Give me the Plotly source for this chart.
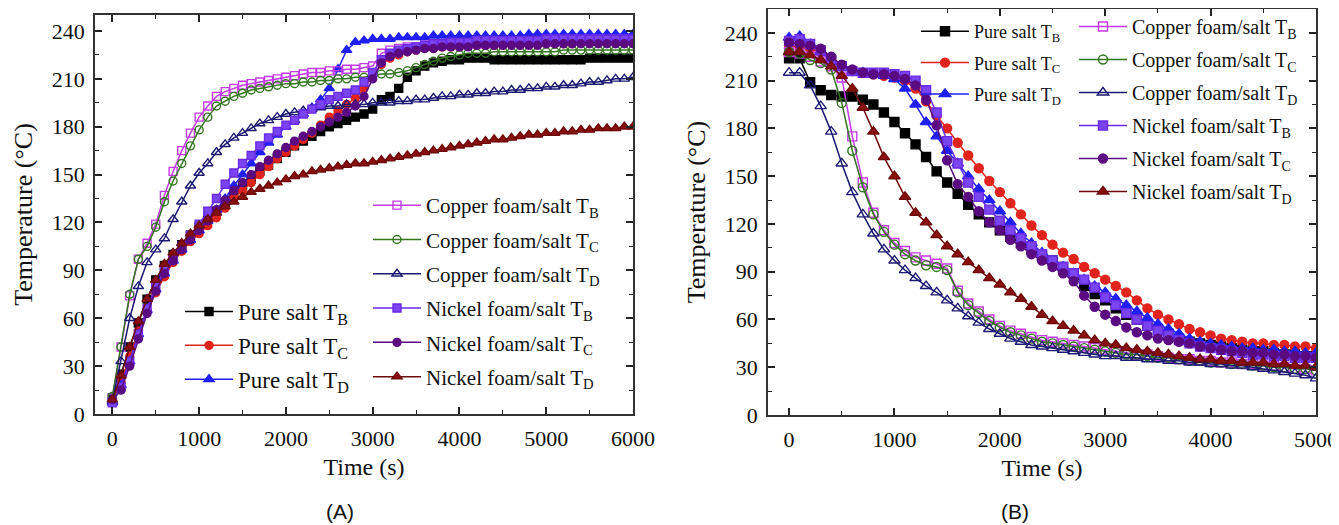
import plotly.graph_objects as go

# ---------------- data ----------------
time_a = list(range(0, 6001, 100))
time_b = list(range(0, 5001, 100))

# Panel A (heating)
a_pure_tb = [10,25,42,57,72,84,93,100,106,112, 117,122,127,132,137,142,147,152,156,160,
             164,168,171,174,177,180,182,184,186,188, 191,197,199,204,211,215,218,220,221,222,
             222,223,223,223,222,222,222,222,222,222, 222,222,222,222,222,223,223,223,223,223, 223]
a_pure_tc = [8,20,36,52,64,76,86,95,102,108, 113,118,123,129,135,140,145,150,155,160,
             164,168,172,176,181,186,190,194,198,204, 212,219,223,225,227,228,229,229,230,230,
             230,231,231,231,231,231,232,232,232,232, 232,232,232,232,233,233,233,233,233,233, 233]
a_pure_td = [7,18,33,50,65,78,88,96,103,109, 115,121,128,135,143,150,157,164,170,175,
             180,184,188,192,197,204,216,228,233,234, 235,235,235,236,236,236,236,237,237,237,
             237,237,237,237,237,237,237,237,238,238, 238,238,238,238,238,238,238,238,238,238, 238]
a_cu_tb = [10,42,74,97,107,119,137,152,165,176, 186,193,199,202,204,206,207,208,209,210,
           211,212,213,214,214,215,215,216,216,217, 218,226,228,229,230,230,231,231,231,232,
           232,232,232,232,233,233,233,233,233,233, 233,233,234,234,234,234,234,234,234,234, 234]
a_cu_tc = [11,42,75,97,105,117,133,146,157,168, 178,186,193,196,199,201,203,204,205,206,
           207,207,208,208,209,209,210,210,211,211, 212,213,213,214,215,217,219,221,223,224,
           225,226,226,226,227,227,227,227,227,227, 227,227,228,228,228,228,228,228,228,228, 228]
a_cu_td = [8,33,60,80,95,103,110,122,133,143, 151,157,164,169,173,176,179,182,184,186,
           188,189,190,191,192,193,193,194,194,194, 195,195,195,196,196,197,197,198,199,199,
           200,200,201,201,202,202,203,203,204,204, 205,205,206,206,207,208,208,209,210,210, 211]
a_ni_tb = [7,17,33,50,66,80,90,98,105,112, 119,127,135,144,151,157,162,168,173,177,
           181,184,188,191,194,197,199,201,203,208, 214,222,226,228,229,230,231,232,232,233,
           233,233,234,234,234,234,234,234,234,234, 235,235,235,235,235,235,235,235,235,235, 235]
a_ni_tc = [9,15,30,47,63,77,88,96,103,109, 115,121,128,134,140,145,150,155,159,163,
           167,171,174,177,180,183,186,189,193,199, 210,220,224,226,227,228,229,229,230,230,
           230,230,231,231,231,231,231,231,231,231, 232,232,232,232,232,232,232,232,232,232, 232]
a_ni_td = [9,24,42,58,72,84,94,101,107,113, 118,122,126,130,133,136,139,141,143,145,
           147,149,150,152,153,154,155,156,157,157, 158,159,160,161,162,163,164,165,166,167,
           168,169,170,171,172,172,173,174,175,175, 176,176,177,177,178,178,179,179,179,180, 180]

# Panel B (cooling)
b_pure_tb = [224,224,209,204,201,200,200,198,195,190, 184,177,170,162,153,146,139,132,126,121,
             116,112,108,104,100,97,93,89,81,76, 72,67,63,60,57,54,51,48,46,45,
             44,43,42,41,40,40,39,38,38,37, 37]
b_pure_tc = [232,231,230,228,224,219,216,215,214,213, 212,210,205,197,188,180,171,163,155,147,
             140,133,126,119,113,107,102,98,93,89, 85,81,77,72,67,63,60,57,54,52,
             50,48,47,46,45,45,44,44,43,43, 42]
b_pure_td = [237,238,233,228,222,218,216,215,214,213, 211,205,195,184,175,166,158,150,142,135,
             128,121,114,108,102,97,93,89,85,81, 77,73,69,65,61,57,54,51,48,46,
             45,44,43,42,42,41,41,40,40,39, 39]
b_cu_tb = [228,227,225,222,219,212,175,146,127,116, 108,103,99,97,95,92,78,70,65,60,
           56,53,51,49,47,46,45,44,43,42, 41,40,39,38,38,37,36,35,35,34,
           34,33,33,32,32,31,31,30,29,29, 28]
b_cu_tc = [228,227,223,221,217,196,166,143,126,115, 107,101,97,94,93,91,77,69,64,59,
           55,52,50,48,46,45,44,43,42,41, 40,39,38,38,37,36,36,35,34,34,
           33,33,32,32,31,31,30,30,29,29, 28]
b_cu_td = [215,215,207,194,178,158,140,126,114,104, 97,91,86,81,77,72,67,62,58,54,
           51,48,46,44,43,42,41,40,39,38, 37,37,36,36,35,35,34,34,33,33,
           32,32,31,31,30,29,28,27,26,25, 23]
b_ni_tb = [235,236,233,229,223,219,216,215,215,215, 214,213,210,204,190,172,158,146,137,129,
           122,116,111,106,101,97,93,89,85,80, 74,69,64,60,56,53,50,47,45,43,
           42,41,40,39,38,38,37,37,36,36, 36]
b_ni_tc = [234,233,232,230,225,220,217,215,214,214, 213,211,207,198,182,160,145,137,128,121,
           116,110,106,101,97,93,89,84,75,68, 63,59,55,52,50,48,47,46,45,43,
           42,41,40,40,39,39,38,38,37,37, 36]
b_ni_td = [228,228,226,223,219,213,205,193,178,162, 150,137,127,121,113,106,101,96,91,86,
           82,77,73,68,63,59,56,53,50,47, 45,44,42,41,40,39,38,37,36,35,
           35,34,34,33,33,33,32,32,31,31, 30]

x_ticks_a = [0, 1000, 2000, 3000, 4000, 5000, 6000]
x_ticks_b = [0, 1000, 2000, 3000, 4000, 5000]
y_ticks = [0, 30, 60, 90, 120, 150, 180, 210, 240]

# ---------------- styles ----------------
SERIF = "Liberation Serif"
SANS = "Liberation Sans"
styles = {
    "pure_tb": dict(name="Pure salt T<sub>B</sub>", color="#000000", symbol="square", fill="#000000"),
    "pure_tc": dict(name="Pure salt T<sub>C</sub>", color="#e0231c", symbol="circle", fill="#e0231c"),
    "pure_td": dict(name="Pure salt T<sub>D</sub>", color="#1f1ff5", symbol="triangle-up", fill="#1f1ff5"),
    "cu_tb": dict(name="Copper foam/salt T<sub>B</sub>", color="#c23be6", symbol="square-open", fill="#c23be6"),
    "cu_tc": dict(name="Copper foam/salt T<sub>C</sub>", color="#33761f", symbol="circle-open", fill="#33761f"),
    "cu_td": dict(name="Copper foam/salt T<sub>D</sub>", color="#1c1a72", symbol="triangle-up-open", fill="#1c1a72"),
    "ni_tb": dict(name="Nickel foam/salt T<sub>B</sub>", color="#6a2ae6", symbol="square", fill="#7a44f0"),
    "ni_tc": dict(name="Nickel foam/salt T<sub>C</sub>", color="#5a0b82", symbol="circle", fill="#5a0b82"),
    "ni_td": dict(name="Nickel foam/salt T<sub>D</sub>", color="#6e0a0a", symbol="triangle-up", fill="#8a1010"),
}

fig = go.Figure()

def add(key, t, vals, xa, ya, legend, size, group):
    s = styles[key]
    fig.add_trace(go.Scatter(
        x=t, y=vals, mode="lines+markers", name=s["name"],
        line=dict(color=s["color"], width=1.5),
        marker=dict(symbol=s["symbol"], size=size, color=s["fill"],
                    line=dict(color=s["color"], width=1.4)),
        xaxis=xa, yaxis=ya, legend=legend, legendgroup=group,
    ))

# panel A
add("pure_tb", time_a, a_pure_tb, "x", "y", "legend", 8, "a1")
add("pure_tc", time_a, a_pure_tc, "x", "y", "legend", 8, "a2")
add("pure_td", time_a, a_pure_td, "x", "y", "legend", 9, "a3")
add("cu_tb", time_a, a_cu_tb, "x", "y", "legend2", 8, "a4")
add("cu_tc", time_a, a_cu_tc, "x", "y", "legend2", 8, "a5")
add("cu_td", time_a, a_cu_td, "x", "y", "legend2", 9, "a6")
add("ni_tb", time_a, a_ni_tb, "x", "y", "legend2", 8, "a7")
add("ni_tc", time_a, a_ni_tc, "x", "y", "legend2", 8, "a8")
add("ni_td", time_a, a_ni_td, "x", "y", "legend2", 9, "a9")
# panel B
add("pure_tb", time_b, b_pure_tb, "x2", "y2", "legend3", 9, "b1")
add("pure_tc", time_b, b_pure_tc, "x2", "y2", "legend3", 9, "b2")
add("pure_td", time_b, b_pure_td, "x2", "y2", "legend3", 10, "b3")
add("cu_tb", time_b, b_cu_tb, "x2", "y2", "legend4", 9, "b4")
add("cu_tc", time_b, b_cu_tc, "x2", "y2", "legend4", 9, "b5")
add("cu_td", time_b, b_cu_td, "x2", "y2", "legend4", 10, "b6")
add("ni_tb", time_b, b_ni_tb, "x2", "y2", "legend4", 9, "b7")
add("ni_tc", time_b, b_ni_tc, "x2", "y2", "legend4", 9, "b8")
add("ni_td", time_b, b_ni_td, "x2", "y2", "legend4", 10, "b9")

# page has an 8 px body margin: the figure is drawn 8 px right/down
OFF = 8
W, H = 1339 - OFF, 525 - OFF

def px(X):
    return (X - OFF) / W

def py(Y):
    return 1 - (Y - OFF) / H

def axis_common(ticks, rng, dtick_minor, title, tsize, standoff):
    return dict(
        range=rng, tickmode="array", tickvals=ticks, ticktext=[str(v) for v in ticks],
        ticks="inside", ticklen=7, tickwidth=1.5, tickcolor="#222",
        minor=dict(ticks="inside", ticklen=4, tickwidth=1.2, tickcolor="#222", dtick=dtick_minor, tick0=0),
        showline=True, linecolor="#333", linewidth=1.6, mirror="ticks",
        showgrid=False, zeroline=False, automargin=False, ticklabelstandoff=4,
        tickfont=dict(family=SERIF, size=22, color="#111"),
        title=dict(text=title, font=dict(family=SERIF, size=tsize, color="#111"), standoff=standoff),
    )

def leg(x_px, y_px, size, gap):
    return dict(x=px(x_px), y=py(y_px), xanchor="left", yanchor="top",
                bgcolor="rgba(0,0,0,0)", borderwidth=0,
                font=dict(family=SERIF, size=size, color="#111"),
                tracegroupgap=gap, itemwidth=48, traceorder="grouped")

fig.update_layout(
    width=W, height=H, margin=dict(l=0, r=0, t=0, b=0, autoexpand=False),
    paper_bgcolor="white", plot_bgcolor="white",
    showlegend=True,
    xaxis=dict(domain=[px(95), px(633)], anchor="y",
               **axis_common(x_ticks_a, [-200, 6000], 500, "Time (s)", 24, 8)),
    yaxis=dict(domain=[py(414), py(15)], anchor="x",
               **axis_common(y_ticks, [0, 250], 15, "Temperature (°C)", 26, 12)),
    xaxis2=dict(domain=[px(768), px(1316)], anchor="y2",
                **axis_common(x_ticks_b, [-200, 5000], 500, "Time (s)", 24, 8)),
    yaxis2=dict(domain=[py(415), py(9)], anchor="x2",
                **axis_common(y_ticks, [0, 255], 15, "Temperature (°C)", 26, 12)),
    legend=leg(180, 290, 23, 1),
    legend2=leg(368, 185, 21, 4),
    legend3=leg(916, 13, 18, 5),
    legend4=leg(1074, 7, 20, 4),
    annotations=[
        dict(text="(A)", x=px(340), y=py(511), xref="paper", yref="paper",
             xanchor="center", yanchor="middle",
             showarrow=False, font=dict(family=SANS, size=21, color="#111")),
        dict(text="(B)", x=px(1015), y=py(511), xref="paper", yref="paper",
             xanchor="center", yanchor="middle",
             showarrow=False, font=dict(family=SANS, size=21, color="#111")),
    ],
)

fig.write_html("out.html")
